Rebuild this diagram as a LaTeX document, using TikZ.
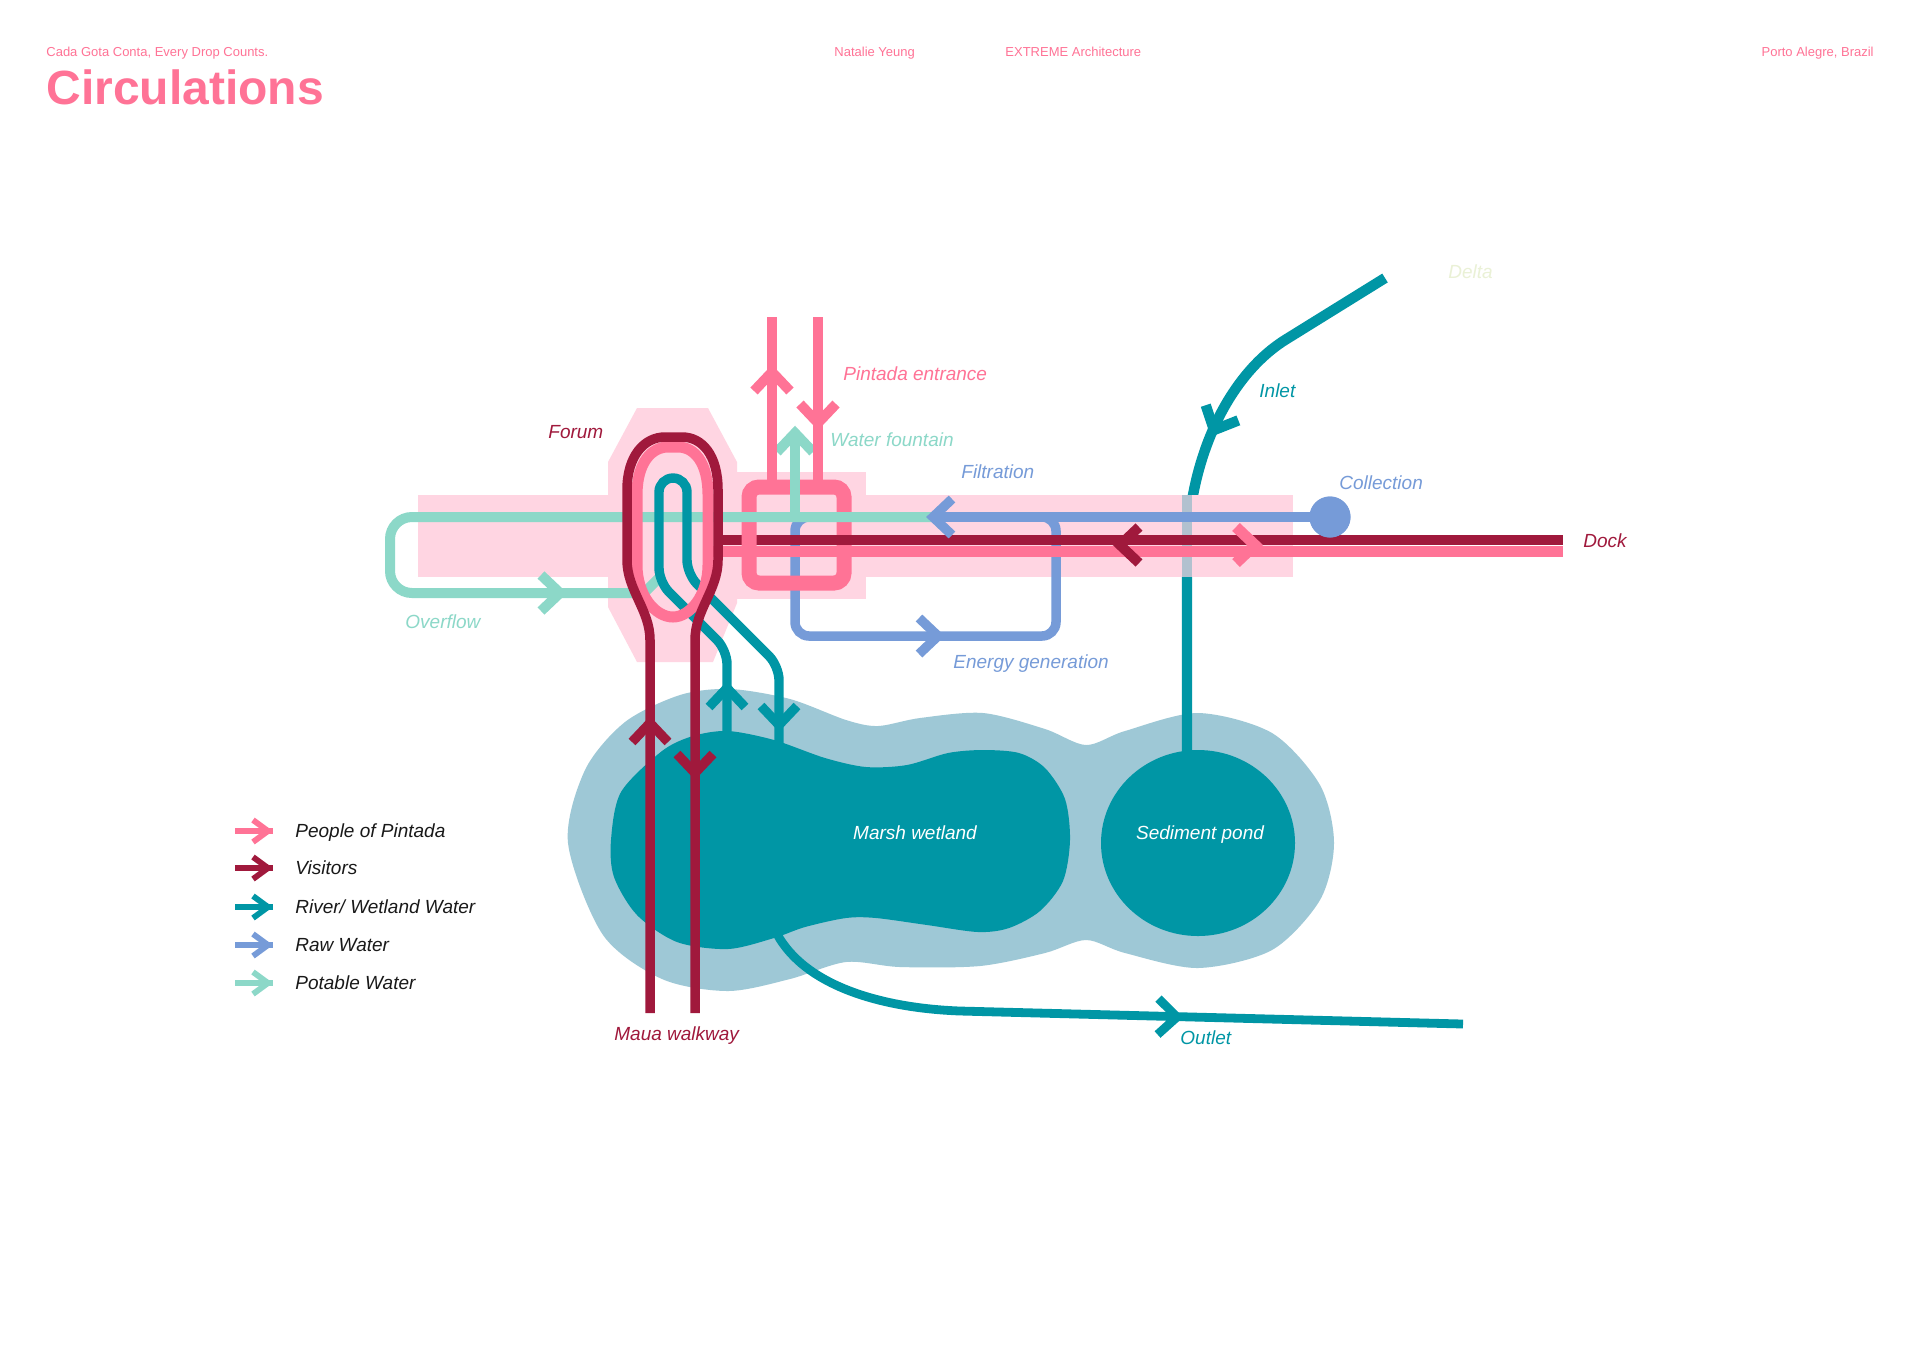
\documentclass[tikz,border=0pt]{standalone}
\usepackage{fontspec}
\setmainfont{Liberation Sans}
\definecolor{pinkc}{RGB}{255,115,150}
\definecolor{maroonc}{RGB}{160,25,60}
\definecolor{tealc}{RGB}{0,150,165}
\definecolor{pondc}{RGB}{158,200,214}
\definecolor{bluec}{RGB}{118,155,216}
\definecolor{mintc}{RGB}{140,216,200}
\definecolor{bgpink}{RGB}{255,213,226}
\definecolor{deltac}{RGB}{234,241,214}
\definecolor{legtext}{RGB}{25,25,25}
\tikzset{
  chev/.pic={\draw[line cap=butt, line join=miter] (-19,-18) -- (0,0) -- (-19,18);},
  schev/.pic={\draw[line cap=butt, line join=miter] (-15,-11) -- (0,0) -- (-15,11);},
  lbl/.style={font=\fontsize{9.5}{11}\selectfont\itshape, inner sep=0pt, anchor=base west},
  hdr/.style={font=\fontsize{6.5}{8}\selectfont, text=pinkc, inner sep=0pt, anchor=base west},
  bgzone/.style={fill=bgpink},
}
\begin{document}
\begin{tikzpicture}[x=0.5pt,y=-0.5pt]
\fill[white] (0,0) rectangle (1920,1357);
\useasboundingbox (0,0) rectangle (1920,1357);

% header
\node[hdr] (motto) at (46,56) {Cada Gota Conta, Every Drop Counts.};
\node[hdr] (author) at (834,56) {Natalie Yeung};
\node[hdr] (studio) at (1005,56) {EXTREME Architecture};
\node[hdr, anchor=base east] (place) at (1874,56) {Porto Alegre, Brazil};
\node[font=\fontsize{24}{28}\selectfont\bfseries, text=pinkc, inner sep=0pt, anchor=base west] (title) at (46,104) {Circulations};

% ponds
\fill[pondc] plot[smooth cycle, tension=0.5] coordinates {
 (568,843) (585,770) (625,722) (680,695) (730,689) (790,699) (846,720) (878,726)
 (920,718) (983,713) (1045,729) (1086,745) (1125,731) (1198,713) (1272,733)
 (1320,785) (1334,843) (1320,900) (1272,950) (1198,968) (1125,953) (1086,940)
 (1045,953) (980,966) (900,967) (846,962) (790,979) (728,991) (662,979) (603,935)};
\fill[tealc] plot[smooth cycle, tension=0.5] coordinates {
 (611,840) (621,792) (662,751) (693,736) (728,731) (774,740) (825,758) (866,767)
 (907,765) (948,753) (983,750) (1019,753) (1045,768) (1065,799) (1070,840)
 (1063,881) (1040,911) (1009,928) (978,932) (927,925) (876,918) (846,918)
 (805,927) (774,938) (728,949) (677,942) (637,915) (614,877)};
\fill[tealc] (1198,843) ellipse [x radius=97, y radius=93];
\node[lbl, text=white, anchor=base] (marshL) at (915,839) {Marsh wetland};
\node[lbl, text=white, anchor=base] (sedL) at (1200,839) {Sediment pond};

% outlet
\coordinate (outA) at (774,928);
\coordinate (outB) at (960,1011);
\coordinate (outEnd) at (1463,1024);
\draw[tealc, line width=4.4pt] (outA) .. controls (800,985) and (880,1008) .. (outB) -- (outEnd);
\pic[color=tealc, line width=4.4pt, rotate=-1.5] at (1177,1017) {chev};

% inlet
\coordinate (delta) at (1385,278);
\coordinate (sedTop) at (1187,752);
\draw[tealc, line width=5.2pt] (delta) -- (1285,340) .. controls (1228,376) and (1187,460) .. (1187,560) -- (sedTop);
\pic[color=tealc, line width=5.2pt, rotate=-115] at (1214,430) {chev};

% pink zones
\fill[bgzone] (418,495) rectangle (1293,577);
\fill[bgzone] (735,472) rectangle (866,599);
\fill[bgzone] (637,408) -- (708,408) -- (737,462) -- (737,603) -- (713,662) -- (637,662) -- (608,607) -- (608,462) -- cycle;
\draw[tealc, opacity=0.3, line width=5.2pt] (1187,495) -- (1187,577);

% raw water loop (energy generation)
\draw[bluec, line width=4.75pt, rounded corners=7pt] (825,517) -- (795,517) -- (795,636) -- (1056,636) -- (1056,517) -- (1026,517);
\pic[color=bluec, line width=4.75pt] at (938,636) {chev};

% dock lines and the square
\coordinate (dockEnd) at (1563,540);
\draw[maroonc, line width=5pt] (715,540) -- (dockEnd);
\draw[pinkc, line width=7.5pt, rounded corners=5pt] (749,487) rectangle (844,583);
\draw[maroonc, line width=5pt] (757,540) -- (dockEnd);
\draw[pinkc, line width=5.5pt] (705,551) -- (1563,551);

% potable water
\draw[mintc, line width=5pt, rounded corners=11pt] (933,517) -- (390,517) -- (390,593) -- (646,593);
\draw[mintc, line width=5pt, line join=round] (636,593) -- (644,593) -- (662,575);
\pic[color=mintc, line width=5pt] at (560,593) {chev};
\draw[mintc, line width=5pt] (795,517) -- (795,433);
\pic[color=mintc, line width=5pt, rotate=90] at (795,433) {chev};

% collection -> filtration
\node[circle, fill=bluec, minimum size=20.5pt, inner sep=0pt] (coll) at (1330,517) {};
\coordinate (filt) at (933,517);
\draw[bluec, line width=4.75pt] (coll.center) -- (filt);
\pic[color=bluec, line width=4.75pt, rotate=180] at (filt) {chev};
\node[circle, fill=bluec, minimum size=20.5pt, inner sep=0pt] (coll2) at (1330,517) {};

% river / wetland water through forum
\draw[tealc, line width=4.7pt, rounded corners=7pt] (727,745) -- (727,650) -- (659,582) -- (659,478) -- (687,478) -- (687,574) -- (779,666) -- (779,745);
\pic[color=tealc, line width=4.7pt, rotate=90] at (727,688) {chev};
\pic[color=tealc, line width=4.7pt, rotate=-90] at (779,725) {chev};

% forum rings
\draw[pinkc, line width=5.5pt] (637,495) .. controls (637,462) and (652,447) .. (668,447) -- (678,447) .. controls (694,447) and (708,462) .. (708,495) -- (708,565) .. controls (708,595) and (690,617) .. (673,617) .. controls (655,617) and (637,595) .. (637,565) -- cycle;
\draw[maroonc, line width=4.75pt] (650,1013) -- (650,640) .. controls (650,610) and (627,590) .. (627,560) -- (627,490) .. controls (627,455) and (645,437) .. (665,437) -- (682,437) .. controls (702,437) and (718,455) .. (718,490) -- (718,560) .. controls (718,590) and (695,610) .. (695,640) -- (695,1013);
\pic[color=maroonc, line width=4.75pt, rotate=90] at (650,723) {chev};
\pic[color=maroonc, line width=4.75pt, rotate=-90] at (695,773) {chev};

% Pintada entrance
\draw[pinkc, line width=5pt] (772,317) -- (772,487);
\draw[pinkc, line width=5pt] (818,317) -- (818,487);
\pic[color=pinkc, line width=5pt, rotate=90] at (772,372) {chev};
\pic[color=pinkc, line width=5pt, rotate=-90] at (818,423) {chev};

% dock arrows
\pic[color=maroonc, line width=5pt, rotate=180] at (1120,545) {chev};
\pic[color=pinkc, line width=5.5pt] at (1255,545) {chev};

% labels
\node[lbl, text=maroonc] (forumL) at (548,438) {Forum};
\node[lbl, text=pinkc] (pintL) at (843,380) {Pintada entrance};
\node[lbl, text=mintc] (fountL) at (830,446) {Water fountain};
\node[lbl, text=bluec] (filtL) at (961,478) {Filtration};
\node[lbl, text=bluec] (collL) at (1339,489) {Collection};
\node[lbl, text=maroonc] (dockL) at (1583,547) {Dock};
\node[lbl, text=tealc] (inletL) at (1259,397) {Inlet};
\node[lbl, text=deltac] (deltaL) at (1448,278) {Delta};
\node[lbl, text=bluec] (energyL) at (953,668) {Energy generation};
\node[lbl, text=mintc] (overL) at (405,628) {Overflow};
\node[lbl, text=maroonc] (mauaL) at (614,1040) {Maua walkway};
\node[lbl, text=tealc] (outL) at (1180,1044) {Outlet};

% legend
\foreach \yy/\cc/\txt [count=\i] in {831/pinkc/{People of Pintada}, 868/maroonc/{Visitors}, 907/tealc/{River/ Wetland Water}, 945/bluec/{Raw Water}, 983/mintc/{Potable Water}}{
  \draw[\cc, line width=2.9pt] (235,\yy) -- (273,\yy);
  \pic[color=\cc, line width=2.9pt] at (268,\yy) {schev};
  \node[lbl, text=legtext] (leg\i) at (295,\yy+6.5) {\txt};
}
\end{tikzpicture}
\end{document}
